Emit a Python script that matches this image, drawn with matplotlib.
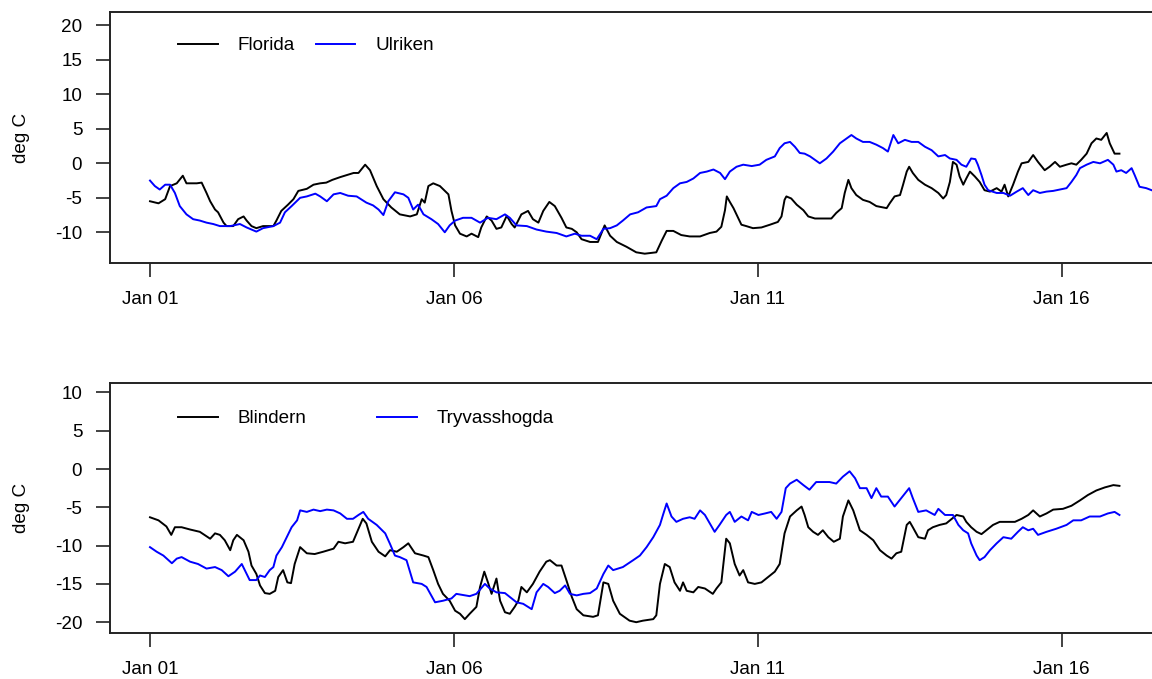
import numpy as np
import pandas as pd
import matplotlib
matplotlib.use("Agg")
import matplotlib.pyplot as plt

plt.rcParams['font.family'] = ['Liberation Sans', 'DejaVu Sans']
plt.rcParams['axes.unicode_minus'] = False

start = pd.Timestamp("2011-01-01")
tick_labels = ["Jan 01", "Jan 06", "Jan 11", "Jan 16"]
tick_days = [0, 5, 10, 15]

# ---- Top panel: Florida (black) ----
florida_days = [0.00, 0.14, 0.25, 0.33, 0.44, 0.54, 0.60, 0.77, 0.85, 0.93, 0.99, 1.07, 1.12, 1.21, 1.26, 1.37,
                1.45, 1.54, 1.59, 1.67, 1.75, 1.86, 2.03, 2.08, 2.16, 2.27, 2.36, 2.44, 2.58, 2.69, 2.80, 2.90,
                3.00, 3.13, 3.24, 3.35, 3.43, 3.54, 3.62, 3.73, 3.84, 3.97, 4.11, 4.28, 4.39, 4.47, 4.52, 4.58,
                4.66, 4.77, 4.91, 4.96, 5.02, 5.10, 5.21, 5.29, 5.40, 5.45, 5.54, 5.62, 5.70, 5.78, 5.87, 5.95,
                6.00, 6.11, 6.22, 6.30, 6.39, 6.47, 6.57, 6.66, 6.77, 6.85, 6.94, 7.02, 7.10, 7.24, 7.37, 7.48,
                7.57, 7.68, 7.84, 8.00, 8.14, 8.33, 8.42, 8.50, 8.61, 8.74, 8.88, 9.05, 9.21, 9.32, 9.40, 9.46,
                9.49, 9.54, 9.60, 9.68, 9.73, 9.81, 9.92, 10.06, 10.20, 10.33, 10.39, 10.44, 10.47, 10.55, 10.64,
                10.75, 10.83, 10.94, 11.07, 11.21, 11.29, 11.38, 11.43, 11.49, 11.54, 11.62, 11.73, 11.84, 11.95,
                12.06, 12.12, 12.17, 12.25, 12.34, 12.39, 12.45, 12.49, 12.55, 12.64, 12.75, 12.86, 12.97, 13.05,
                13.10, 13.16, 13.21, 13.27, 13.32, 13.38, 13.43, 13.49, 13.57, 13.65, 13.73, 13.82, 13.93, 14.01,
                14.06, 14.12, 14.20, 14.28, 14.34, 14.45, 14.53, 14.61, 14.72, 14.80, 14.89, 14.97, 15.08, 15.16,
                15.24, 15.32, 15.41, 15.49, 15.57, 15.65, 15.74, 15.79, 15.87, 15.95]
florida_vals = [-5.5, -5.8, -5.2, -3.3, -2.9, -1.8, -2.9, -2.9, -2.8, -4.3, -5.5, -6.7, -7.1, -8.6, -9.1, -9.1,
                -8.1, -7.7, -8.3, -9.1, -9.4, -9.1, -9.1, -8.3, -6.9, -6.0, -5.2, -4.0, -3.7, -3.1, -2.9, -2.8,
                -2.4, -2.0, -1.7, -1.4, -1.4, -0.2, -1.0, -3.3, -5.2, -6.4, -7.4, -7.7, -7.4, -5.2, -5.7, -3.3,
                -2.9, -3.3, -4.5, -6.9, -9.0, -10.2, -10.6, -10.2, -10.7, -9.3, -7.7, -8.3, -9.5, -9.3, -7.6, -8.8,
                -9.3, -7.4, -6.9, -8.1, -8.6, -6.9, -5.6, -6.2, -7.9, -9.3, -9.5, -10.0, -11.0, -11.4, -11.4, -9.0,
                -10.5, -11.4, -12.1, -12.9, -13.1, -12.9, -11.2, -9.8, -9.8, -10.4, -10.6, -10.6, -10.1, -9.9, -9.2, -6.8,
                -4.8, -5.6, -6.5, -8.0, -8.9, -9.1, -9.4, -9.3, -8.9, -8.5, -7.7, -5.3, -4.8, -5.1, -6.0,
                -6.8, -7.7, -8.0, -8.0, -8.0, -7.2, -6.5, -4.3, -2.4, -3.6, -4.6, -5.3, -5.6, -6.2,
                -6.4, -6.5, -5.8, -4.8, -4.6, -3.1, -1.2, -0.5, -1.4, -2.4, -3.1, -3.6, -4.3, -5.1,
                -4.6, -2.7, 0.2, -0.2, -1.9, -3.1, -2.2, -1.2, -1.9, -2.7, -3.9, -4.1, -3.6, -4.1,
                -3.1, -4.8, -3.1, -1.2, 0.0, 0.2, 1.2, 0.2, -1.0, -0.5, 0.2, -0.5, -0.2, 0.0,
                -0.2, 0.5, 1.4, 2.9, 3.6, 3.4, 4.4, 2.9, 1.4, 1.4]

# ---- Top panel: Ulriken (blue) ----
ulriken_days = [0.00, 0.08, 0.16, 0.25, 0.33, 0.41, 0.49, 0.60, 0.71, 0.82, 0.93, 1.04, 1.15, 1.32, 1.48, 1.59,
                1.75, 1.86, 2.03, 2.14, 2.22, 2.33, 2.47, 2.58, 2.72, 2.80, 2.91, 3.02, 3.13, 3.26, 3.40, 3.56,
                3.67, 3.76, 3.84, 3.92, 4.03, 4.17, 4.25, 4.33, 4.41, 4.50, 4.63, 4.74, 4.85, 4.93, 5.02, 5.15,
                5.29, 5.43, 5.56, 5.70, 5.84, 5.92, 6.03, 6.20, 6.36, 6.52, 6.69, 6.85, 6.99, 7.10, 7.24, 7.35,
                7.46, 7.57, 7.68, 7.78, 7.90, 8.03, 8.17, 8.33, 8.39, 8.50, 8.61, 8.72, 8.83, 8.94, 9.05, 9.16,
                9.27, 9.38, 9.46, 9.54, 9.65, 9.76, 9.90, 10.03, 10.14, 10.28, 10.36, 10.44, 10.53, 10.61, 10.69,
                10.77, 10.86, 10.94, 11.02, 11.13, 11.24, 11.35, 11.43, 11.54, 11.62, 11.73, 11.84, 11.95, 12.06,
                12.14, 12.23, 12.31, 12.42, 12.53, 12.64, 12.75, 12.86, 12.97, 13.08, 13.16, 13.27, 13.35, 13.43,
                13.51, 13.58, 13.62, 13.68, 13.73, 13.79, 13.93, 14.04, 14.15, 14.26, 14.36, 14.45, 14.53, 14.64,
                14.75, 14.86, 14.97, 15.08, 15.16, 15.24, 15.30, 15.41, 15.52, 15.63, 15.76, 15.85, 15.90, 15.98,
                16.06, 16.15, 16.20, 16.28, 16.39, 16.48]
ulriken_vals = [-2.5, -3.3, -3.8, -3.1, -3.1, -4.3, -6.2, -7.4, -8.1, -8.3, -8.6, -8.8, -9.1, -9.1, -8.8, -9.3,
                -9.9, -9.4, -9.1, -8.6, -7.1, -6.2, -5.0, -4.8, -4.4, -4.8, -5.5, -4.5, -4.3, -4.7, -4.8, -5.7,
                -6.1, -6.7, -7.5, -5.5, -4.2, -4.5, -5.0, -6.7, -6.0, -7.4, -8.1, -8.8, -10.0, -9.0, -8.3, -7.9,
                -7.9, -8.6, -7.9, -8.1, -7.4, -7.9, -9.0, -9.1, -9.6, -9.9, -10.1, -10.6, -10.2, -10.5, -10.5, -11.0,
                -9.5, -9.4, -9.0, -8.3, -7.4, -7.1, -6.4, -6.2, -5.2, -4.7, -3.6, -2.9, -2.7, -2.2, -1.4, -1.2,
                -0.9, -1.4, -2.3, -1.2, -0.5, -0.2, -0.4, -0.2, 0.5, 1.0, 2.2, 2.9, 3.1, 2.4, 1.5,
                1.4, 1.0, 0.5, 0.0, 0.7, 1.7, 2.9, 3.4, 4.1, 3.6, 3.1, 3.1, 2.7, 2.2,
                1.7, 4.1, 2.9, 3.4, 3.1, 3.1, 2.4, 1.9, 1.0, 1.2, 0.7, 0.5, -0.2, -0.5,
                0.7, 0.6, -0.2, -1.7, -3.1, -3.9, -4.3, -4.3, -4.7, -4.1, -3.6, -4.6, -3.9, -4.3,
                -4.1, -4.0, -3.8, -3.6, -2.7, -1.7, -0.7, -0.2, 0.2, 0.0, 0.5, -0.2, -1.2, -1.0,
                -1.4, -0.7, -1.7, -3.4, -3.6, -3.9]

# ---- Bottom panel: Blindern (black) ----
blindern_days = [0.00, 0.14, 0.27, 0.35, 0.41, 0.52, 0.66, 0.82, 0.99, 1.07, 1.15, 1.23, 1.32, 1.37, 1.43, 1.54,
                 1.62, 1.67, 1.75, 1.81, 1.89, 1.97, 2.06, 2.11, 2.19, 2.26, 2.32, 2.38, 2.47, 2.58, 2.71, 2.85,
                 3.02, 3.10, 3.21, 3.34, 3.43, 3.50, 3.56, 3.65, 3.76, 3.87, 3.95, 4.06, 4.17, 4.25, 4.36, 4.50,
                 4.58, 4.66, 4.74, 4.82, 4.93, 5.02, 5.10, 5.18, 5.26, 5.37, 5.43, 5.50, 5.56, 5.62, 5.70, 5.76,
                 5.84, 5.92, 6.00, 6.06, 6.11, 6.20, 6.30, 6.41, 6.52, 6.58, 6.69, 6.77, 6.85, 6.94, 7.02, 7.13,
                 7.29, 7.37, 7.46, 7.54, 7.62, 7.73, 7.89, 8.00, 8.11, 8.28, 8.33, 8.39, 8.47, 8.55, 8.63, 8.72,
                 8.77, 8.83, 8.94, 9.02, 9.13, 9.26, 9.32, 9.40, 9.48, 9.54, 9.62, 9.70, 9.76, 9.84, 9.95, 10.06,
                 10.17, 10.28, 10.36, 10.44, 10.53, 10.64, 10.72, 10.77, 10.83, 10.91, 10.99, 11.07, 11.16, 11.25,
                 11.35, 11.40, 11.49, 11.57, 11.68, 11.79, 11.90, 12.01, 12.12, 12.20, 12.28, 12.36, 12.45, 12.50,
                 12.55, 12.64, 12.75, 12.80, 12.88, 12.99, 13.10, 13.21, 13.27, 13.38, 13.43, 13.51, 13.60, 13.68,
                 13.76, 13.87, 13.98, 14.12, 14.23, 14.34, 14.45, 14.53, 14.64, 14.75, 14.86, 15.02, 15.16, 15.30,
                 15.43, 15.57, 15.71, 15.85, 15.95]
blindern_vals = [-6.3, -6.7, -7.5, -8.6, -7.6, -7.6, -7.9, -8.2, -9.1, -8.4, -8.6, -9.3, -10.6, -9.3, -8.6, -9.3,
                 -10.8, -12.6, -13.7, -15.2, -16.2, -16.3, -15.9, -14.1, -13.2, -14.8, -14.9, -12.4, -10.2, -11.0, -11.1, -10.8,
                 -10.4, -9.5, -9.7, -9.5, -7.8, -6.5, -7.1, -9.5, -10.8, -11.4, -10.6, -10.8, -10.2, -9.7, -11.0, -11.3,
                 -11.5, -13.2, -15.0, -16.3, -17.2, -18.5, -18.9, -19.6, -18.9, -18.0, -15.4, -13.4, -14.8, -16.3, -14.3, -17.2,
                 -18.7, -18.9, -18.0, -17.2, -15.4, -16.1, -15.0, -13.4, -12.1, -11.9, -12.6, -12.6, -14.5, -16.7, -18.3, -19.1,
                 -19.3, -19.1, -14.8, -15.0, -17.2, -18.9, -19.8, -20.0, -19.8, -19.6, -19.1, -15.0, -12.4, -12.8, -14.8, -15.9,
                 -14.8, -15.9, -16.1, -15.4, -15.6, -16.3, -15.6, -14.8, -9.1, -9.7, -12.4, -13.9, -13.2, -14.8, -15.0, -14.8,
                 -14.1, -13.4, -12.4, -8.4, -6.2, -5.4, -4.9, -6.0, -7.6, -8.2, -8.6, -8.0, -8.9, -9.5,
                 -9.1, -6.2, -4.1, -5.4, -8.0, -8.6, -9.3, -10.6, -11.3, -11.7, -11.0, -10.8, -7.3, -6.9,
                 -7.6, -8.9, -9.1, -8.0, -7.6, -7.3, -7.1, -6.4, -6.0, -6.2, -6.9, -7.6, -8.2, -8.5,
                 -8.0, -7.3, -6.9, -6.9, -6.9, -6.5, -6.0, -5.4, -6.2, -5.8, -5.3, -5.2, -4.8, -4.1,
                 -3.4, -2.8, -2.4, -2.1, -2.2]

# ---- Bottom panel: Tryvasshogda (blue) ----
tryvann_days = [0.00, 0.11, 0.22, 0.36, 0.44, 0.52, 0.66, 0.79, 0.93, 1.07, 1.18, 1.29, 1.40, 1.51, 1.59, 1.64,
                1.75, 1.81, 1.89, 1.97, 2.03, 2.08, 2.17, 2.25, 2.33, 2.42, 2.47, 2.58, 2.69, 2.80, 2.91, 3.02,
                3.13, 3.24, 3.34, 3.43, 3.51, 3.59, 3.73, 3.87, 3.95, 4.03, 4.11, 4.22, 4.33, 4.47, 4.55, 4.69,
                4.82, 4.96, 5.04, 5.26, 5.37, 5.51, 5.59, 5.70, 5.84, 6.03, 6.14, 6.28, 6.36, 6.47, 6.55, 6.66,
                6.74, 6.83, 6.91, 7.02, 7.13, 7.24, 7.35, 7.46, 7.54, 7.62, 7.78, 7.95, 8.06, 8.17, 8.28, 8.39,
                8.44, 8.50, 8.58, 8.66, 8.77, 8.88, 8.96, 9.05, 9.13, 9.21, 9.29, 9.37, 9.48, 9.54, 9.62, 9.73,
                9.84, 9.90, 10.01, 10.12, 10.22, 10.31, 10.39, 10.46, 10.53, 10.64, 10.75, 10.85, 10.96, 11.07,
                11.18, 11.29, 11.40, 11.51, 11.60, 11.68, 11.79, 11.87, 11.95, 12.03, 12.14, 12.25, 12.36, 12.49,
                12.55, 12.64, 12.77, 12.91, 12.97, 13.08, 13.21, 13.30, 13.38, 13.46, 13.51, 13.60, 13.65, 13.73,
                13.82, 13.93, 14.04, 14.17, 14.28, 14.36, 14.45, 14.53, 14.61, 14.75, 14.91, 15.08, 15.19, 15.32,
                15.46, 15.63, 15.76, 15.87, 15.95]
tryvann_vals = [-10.2, -10.8, -11.3, -12.3, -11.7, -11.5, -12.1, -12.4, -13.0, -12.8, -13.2, -14.0, -13.4, -12.4, -13.7, -14.5,
                -14.5, -13.9, -14.1, -13.2, -12.8, -11.3, -10.2, -8.9, -7.6, -6.7, -5.4, -5.6, -5.3, -5.5, -5.3, -5.4,
                -5.8, -6.5, -6.5, -6.0, -5.6, -6.5, -7.3, -8.4, -9.8, -11.3, -11.5, -11.9, -14.8, -15.0, -15.4, -17.4,
                -17.2, -16.9, -16.3, -16.6, -16.3, -15.0, -15.6, -16.1, -16.2, -17.4, -17.6, -18.3, -16.1, -15.0, -15.4, -16.2,
                -15.9, -15.2, -16.3, -16.5, -16.3, -16.2, -15.6, -13.7, -12.6, -13.2, -12.8, -11.9, -11.3, -10.2, -8.9, -7.3,
                -6.0, -4.5, -6.2, -6.9, -6.5, -6.3, -6.5, -5.4, -6.0, -7.1, -8.2, -7.3, -6.0, -5.6, -6.9, -6.2,
                -6.7, -5.6, -6.0, -5.8, -5.6, -6.5, -5.6, -2.5, -1.9, -1.4, -2.1, -2.7, -1.7, -1.7,
                -1.7, -1.9, -1.0, -0.3, -1.2, -2.5, -2.5, -3.8, -2.5, -3.6, -3.6, -4.9, -3.8, -2.5,
                -3.8, -5.6, -5.4, -6.0, -5.2, -6.0, -6.0, -7.3, -8.0, -8.4, -9.7, -11.3, -11.9, -11.5,
                -10.6, -9.7, -8.9, -9.1, -8.2, -7.6, -8.0, -7.8, -8.6, -8.2, -7.8, -7.3, -6.7, -6.7,
                -6.2, -6.2, -5.8, -5.6, -6.0]

top_yticks = [20, 15, 10, 5, 0, -5, -10]
bottom_yticks = [10, 5, 0, -5, -10, -15, -20]


def to_time(days):
    return start + pd.to_timedelta(np.asarray(days), unit="D")


W, H = 1152, 679
fig = plt.figure(figsize=(W / 100, H / 100), dpi=100)

ax_left_px, ax_right_px = 110, 1193


def make_axes(top_px, bottom_px):
    return fig.add_axes([ax_left_px / W, 1 - bottom_px / H,
                         (ax_right_px - ax_left_px) / W, (bottom_px - top_px) / H])


ax1 = make_axes(12, 263)
ax2 = make_axes(383, 633)

FS = 13.6
panels = [
    (ax1, florida_days, florida_vals, "Florida", ulriken_days, ulriken_vals, "Ulriken",
     top_yticks, (-14.45, 21.93), 1.1, 0.900),
    (ax2, blindern_days, blindern_vals, "Blindern", tryvann_days, tryvann_vals, "Tryvasshogda",
     bottom_yticks, (-21.41, 11.23), 3.75, 0.892),
]

for ax, d1, v1, n1, d2, v2, n2, yt, ylim, colsp, legy in panels:
    ax.plot(to_time(d1), v1, color="black", lw=1.4, label=n1)
    ax.plot(to_time(d2), v2, color="#0000FF", lw=1.4, label=n2)
    ax.set_xlim(start - pd.Timedelta(days=0.658), start + pd.Timedelta(days=17.16))
    ax.set_ylim(*ylim)
    ax.set_yticks(yt)
    ax.set_yticklabels([str(t) for t in yt], fontsize=FS)
    ax.set_xticks(to_time(tick_days))
    ax.set_xticklabels(tick_labels, fontsize=FS)
    ax.tick_params(direction="out", length=10, width=1.2, color="#222222")
    ax.tick_params(axis="y", pad=10)
    ax.tick_params(axis="x", pad=10)
    for sp in ax.spines.values():
        sp.set_linewidth(1.4)
        sp.set_color("#222222")
    ax.set_ylabel("deg C", fontsize=FS, labelpad=18)
    ax.legend(loc="upper left", bbox_to_anchor=(0.0628, legy), borderaxespad=0, borderpad=0,
              frameon=False, ncol=2, fontsize=FS, handlelength=2.1, handletextpad=1.05,
              columnspacing=colsp)

fig.savefig("out.png", dpi=100)
